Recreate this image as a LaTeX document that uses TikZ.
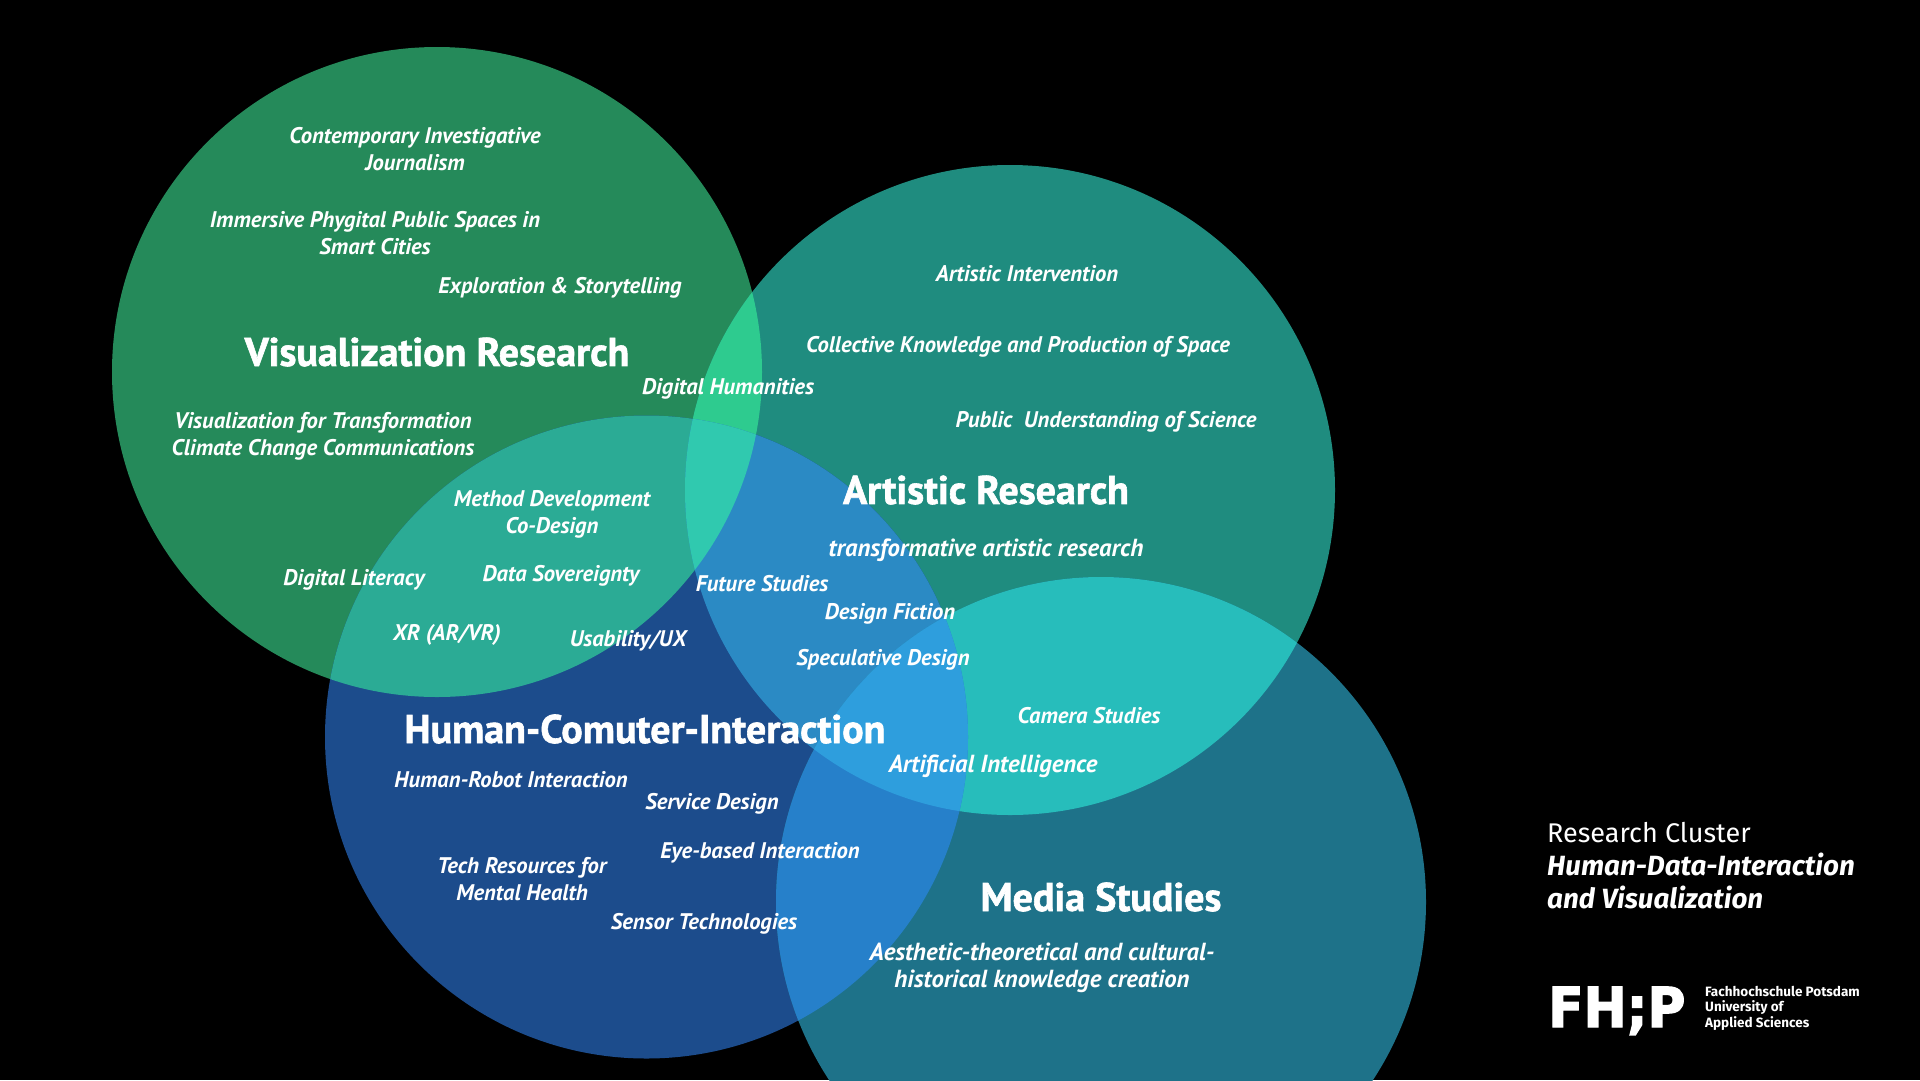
\documentclass[tikz,border=0pt]{standalone}
\usepackage{fontspec}
\setmainfont{PT Sans}
\newfontfamily\headfont{PT Sans}[BoldFeatures={FakeBold=1.5}]
\newfontfamily\logofont{Fira Sans}
\newfontfamily\markfont{DejaVu Sans}[BoldFeatures={FakeBold=2.5,FakeStretch=0.94}]
\definecolor{vizgreen}{HTML}{258A5A}
\definecolor{artteal}{HTML}{1F8C7F}
\definecolor{hciblue}{HTML}{1C4C8C}
\definecolor{mediateal}{HTML}{1E7289}
\definecolor{vizart}{HTML}{2ECB8F}
\definecolor{vizhci}{HTML}{2BAB95}
\definecolor{arthci}{HTML}{2B8AC4}
\definecolor{artmedia}{HTML}{27BDBB}
\definecolor{hcimedia}{HTML}{2680CA}
\definecolor{vizarthci}{HTML}{30C9AF}
\definecolor{arthcimedia}{HTML}{2E9EDD}
\def\circviz{(437,372) circle (325)}
\def\circart{(1010,490) circle (325)}
\def\circhci{(646.5,737) circle (321.5)}
\def\circmedia{(1101,902) circle (325)}
\tikzset{
    topic/.style={text=white, align=center, inner sep=0pt, font=\fontsize{22.6}{27}\selectfont\bfseries\itshape},
    bigtopic/.style={topic, font=\fontsize{24.7}{27}\selectfont\bfseries\itshape},
    field/.style={text=white, align=center, inner sep=0pt, font=\headfont\fontsize{40}{44}\selectfont\bfseries},
    cluster/.style={text=white, align=left, anchor=north west, inner sep=0pt, font=\logofont\fontsize{27}{33}\selectfont}
}
\begin{document}
\begin{tikzpicture}[x=1pt,y=-1pt]
    \useasboundingbox (0,0) rectangle (1920,1080);
    \clip (0,0) rectangle (1920,1080);
    \fill[black] (0,0) rectangle (1920,1080);

    % the four circles
    \fill[vizgreen] \circviz;
    \fill[artteal] \circart;
    \fill[hciblue] \circhci;
    \fill[mediateal] \circmedia;

    % overlaps
    \begin{scope}
        \clip \circviz;
        \fill[vizart] \circart;
        \fill[vizhci] \circhci;
    \end{scope}
    \begin{scope}
        \clip \circart;
        \fill[arthci] \circhci;
        \fill[artmedia] \circmedia;
    \end{scope}
    \begin{scope}
        \clip \circhci;
        \fill[hcimedia] \circmedia;
    \end{scope}
    \begin{scope}
        \clip \circart;
        \clip \circhci;
        \fill[vizarthci] \circviz;
        \fill[arthcimedia] \circmedia;
    \end{scope}

    % headings
    \node[field] (vizfield) at (437,352) {Visualization Research};
    \node[field] (artfield) at (986,490) {Artistic Research};
    \node[field] (hcifield) at (645,729) {Human-Comuter-Interaction};
    \node[field] (mediafield) at (1101,897) {Media Studies};

    % visualization research
    \node[topic] (journalism) at (415,149) {Contemporary Investigative\\Journalism};
    \node[topic] (phygital) at (375,233) {Immersive Phygital Public Spaces in\\Smart Cities};
    \node[topic] (storytelling) at (560,288) {Exploration \& Storytelling};
    \node[topic] (humanities) at (728,389) {Digital Humanities};
    \node[topic] (transformation) at (323,436) {Visualization for Transformation\\Climate Change Communications};
    \node[topic] (codesign) at (552,514) {Method Development\\Co-Design};
    \node[topic] (literacy) at (354,580) {Digital Literacy};
    \node[topic] (sovereignty) at (561,576) {Data Sovereignty};
    \node[topic] (xr) at (447,635) {XR (AR/VR)};
    \node[topic] (usability) at (628,641) {Usability/UX};

    % artistic research
    \node[topic] (intervention) at (1027,274) {Artistic Intervention};
    \node[topic] (collective) at (1018,347) {Collective Knowledge and Production of Space};
    \node[topic] (public) at (1106,422) {Public\ \ Understanding of Science};
    \node[bigtopic] (transformative) at (986,550) {transformative artistic research};
    \node[topic] (future) at (762,584) {Future Studies};
    \node[topic] (fiction) at (890,614) {Design Fiction};
    \node[topic] (speculative) at (883,660) {Speculative Design};
    \node[topic] (camera) at (1089,716) {Camera Studies};
    \node[bigtopic] (ai) at (993,766) {Artificial Intelligence};

    % human computer interaction
    \node[topic] (robot) at (511,780) {Human-Robot Interaction};
    \node[topic] (service) at (712,804) {Service Design};
    \node[topic] (eyebased) at (760,853) {Eye-based Interaction};
    \node[topic] (mental) at (522,879) {Tech Resources for\\Mental Health};
    \node[topic] (sensor) at (704,924) {Sensor Technologies};

    % media studies
    \node[bigtopic] (aesthetic) at (1042,968) {Aesthetic-theoretical and cultural-\\historical knowledge creation};

    % cluster and logo
    \node[cluster] (cluster) at (1547,822) {Research Cluster\\{\fontsize{27.8}{33}\selectfont\bfseries\itshape Human-Data-Interaction}\\{\fontsize{27.8}{33}\selectfont\bfseries\itshape and Visualization}};
    \node[text=white, inner sep=0pt, anchor=base west, font=\markfont\fontsize{55}{55}\selectfont\bfseries] (fhp) at (1548,1027) {FH;P};
    \node[text=white, inner sep=0pt, align=left, anchor=north west, font=\logofont\fontsize{13.5}{15.5}\selectfont\bfseries] (school) at (1705,986) {Fachhochschule Potsdam\\University of\\Applied Sciences};
\end{tikzpicture}
\end{document}
